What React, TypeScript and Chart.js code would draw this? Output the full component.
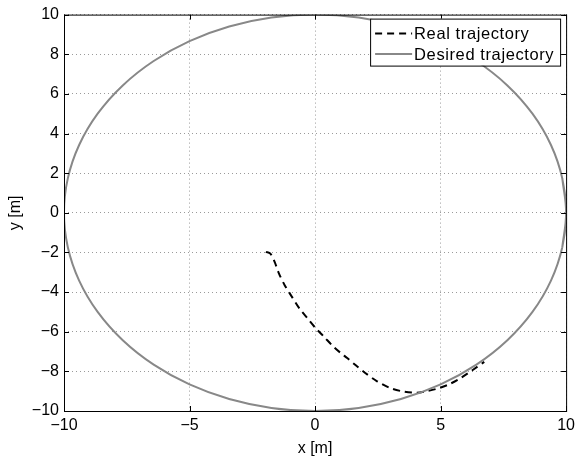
import { useEffect, useRef } from "react";
import { Chart, registerables } from "chart.js";

Chart.register(...registerables);

const realLabel = "Real trajectory";
const desiredLabel = "Desired trajectory";

const realX = [-1.96, -1.78, -1.61, -1.44, -1.21, -0.92, -0.62, -0.30, 0.03, 0.36, 0.69, 1.00, 1.28, 1.61, 2.00, 2.47, 2.99, 3.52, 4.04, 4.44, 4.90, 5.36, 5.82, 6.28, 6.74];
const realY = [-1.97, -2.06, -2.48, -3.06, -3.65, -4.24, -4.83, -5.33, -5.83, -6.26, -6.70, -7.05, -7.33, -7.68, -8.08, -8.50, -8.84, -9.02, -9.08, -9.00, -8.86, -8.64, -8.32, -7.93, -7.52];

const desiredX = [9.848, 10, 9.848, 9.397, 8.660, 7.660, 6.428, 5.000, 3.420, 1.736, 0, -1.736, -3.420, -5.000, -6.428, -7.660, -8.660, -9.397, -9.848, -10, -9.848, -9.397, -8.660, -7.660, -6.428, -5.000, -3.420, -1.736, 0, 1.736, 3.420, 5.000, 6.428, 7.660, 8.660, 9.397, 9.848, 10, 9.848];
const desiredY = [-1.736, 0, 1.736, 3.420, 5.000, 6.428, 7.660, 8.660, 9.397, 9.848, 10, 9.848, 9.397, 8.660, 7.660, 6.428, 5.000, 3.420, 1.736, 0, -1.736, -3.420, -5.000, -6.428, -7.660, -8.660, -9.397, -9.848, -10, -9.848, -9.397, -8.660, -7.660, -6.428, -5.000, -3.420, -1.736, 0, 1.736];

const xTicks = [-10, -5, 0, 5, 10];
const yTicks = [-10, -8, -6, -4, -2, 0, 2, 4, 6, 8, 10];

const FAMILY = "'Liberation Sans', Arial, Helvetica, sans-serif";
const fmt = (v: number | string) => String(v).replace("-", "\u2212");

const REAL_DASH = [7, 5];

const framePlugin = {
  id: "matlabFrame",
  afterDraw(chart: any) {
    const { ctx, chartArea: a, scales } = chart;
    const xs = scales.x;
    const ys = scales.y;
    ctx.save();
    ctx.setLineDash([]);
    ctx.strokeStyle = "#000";
    ctx.lineWidth = 1;
    ctx.strokeRect(a.left + 0.5, a.top + 0.5, a.right - a.left, a.bottom - a.top);
    const tl = 5;
    ctx.beginPath();
    xTicks.forEach((v) => {
      const px = Math.round(xs.getPixelForValue(v)) + 0.5;
      ctx.moveTo(px, a.bottom);
      ctx.lineTo(px, a.bottom - tl);
      ctx.moveTo(px, a.top);
      ctx.lineTo(px, a.top + tl);
    });
    yTicks.forEach((v) => {
      const py = Math.round(ys.getPixelForValue(v)) + 0.5;
      ctx.moveTo(a.left, py);
      ctx.lineTo(a.left + tl, py);
      ctx.moveTo(a.right, py);
      ctx.lineTo(a.right - tl, py);
    });
    ctx.stroke();

    // legend box
    const boxR = a.right - 6;
    const boxW = 190;
    const boxL = boxR - boxW;
    const boxT = a.top + 4;
    const boxH = 47;
    ctx.fillStyle = "#fff";
    ctx.fillRect(boxL, boxT, boxW, boxH);
    ctx.strokeStyle = "#000";
    ctx.lineWidth = 1;
    ctx.strokeRect(boxL + 0.5, boxT + 0.5, boxW, boxH);

    const rows = chart.data.datasets;
    rows.forEach((ds: any, i: number) => {
      const y = boxT + 15 + i * 20.5;
      ctx.save();
      ctx.strokeStyle = ds.borderColor;
      ctx.lineWidth = ds.borderWidth;
      ctx.setLineDash(ds.borderDash || []);
      ctx.beginPath();
      ctx.moveTo(boxL + 5, y);
      ctx.lineTo(boxL + 42, y);
      ctx.stroke();
      ctx.restore();
      ctx.fillStyle = "#000";
      ctx.font = `16.5px ${FAMILY}`;
      (ctx as any).letterSpacing = "0.6px";
      ctx.textBaseline = "middle";
      ctx.textAlign = "left";
      ctx.fillText(ds.label, boxL + 44, y + 1);
    });
    ctx.restore();
  },
};

export default function App() {
  const ref = useRef<HTMLCanvasElement | null>(null);
  useEffect(() => {
    if (!ref.current) return;
    const chart = new Chart(ref.current, {
      type: "scatter",
      data: {
        datasets: [
          {
            label: realLabel,
            data: realX.map((x, i) => ({ x, y: realY[i] })),
            showLine: true,
            borderColor: "#000",
            borderWidth: 2,
            borderDash: REAL_DASH,
            pointRadius: 0,
            tension: 0.3,
            order: 1,
          },
          {
            label: desiredLabel,
            data: desiredX.map((x, i) => ({ x, y: desiredY[i] })),
            showLine: true,
            borderColor: "#888",
            borderWidth: 2,
            pointRadius: 0,
            tension: 0.4,
            order: 0,
          },
        ],
      },
      options: {
        responsive: false,
        animation: false,
        devicePixelRatio: 1,
        layout: { padding: { top: 14, right: 9, left: 0, bottom: 0 } },
        plugins: { legend: { display: false }, tooltip: { enabled: false } },
        scales: {
          x: {
            type: "linear",
            min: -10,
            max: 10,
            afterBuildTicks: (s: any) => {
              s.ticks = xTicks.map((v) => ({ value: v }));
            },
            ticks: {
              color: "#000",
              font: { family: FAMILY, size: 16 },
              padding: 5,
              maxRotation: 0,
              autoSkip: false,
              callback: (v: any) => fmt(v),
            },
            grid: { color: "#9a9a9a", lineWidth: 1, drawTicks: false },
            border: { display: false, dash: [1, 3] },
            title: {
              display: true,
              text: "x [m]",
              color: "#000",
              font: { family: FAMILY, size: 16 },
              padding: { top: 0, bottom: 5 },
            },
            afterFit: (s: any) => {
              s.height = 52;
            },
          },
          y: {
            type: "linear",
            min: -10,
            max: 10,
            afterBuildTicks: (s: any) => {
              s.ticks = yTicks.map((v) => ({ value: v }));
            },
            ticks: {
              color: "#000",
              font: { family: FAMILY, size: 16 },
              padding: 5,
              autoSkip: false,
              callback: (v: any) => fmt(v),
            },
            grid: { color: "#9a9a9a", lineWidth: 1, drawTicks: false },
            border: { display: false, dash: [1, 3] },
            title: {
              display: true,
              text: "y [m]",
              color: "#000",
              font: { family: FAMILY, size: 16 },
              padding: { top: 6, bottom: 0 },
            },
            afterFit: (s: any) => {
              s.width = 64;
            },
          },
        },
      },
      plugins: [framePlugin],
    });
    return () => chart.destroy();
  }, []);
  return (
    <div style={{ position: "absolute", left: 0, top: 0, width: 580, height: 463 }}>
      <canvas ref={ref} width={580} height={463} style={{ display: "block" }} />
    </div>
  );
}
